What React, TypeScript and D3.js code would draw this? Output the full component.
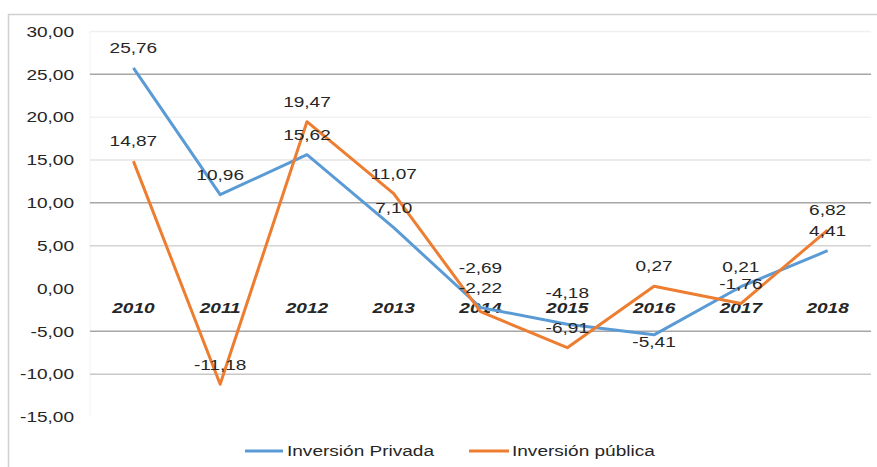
import React from "react";
import * as d3 from "d3";

const years = ["2010", "2011", "2012", "2013", "2014", "2015", "2016", "2017", "2018"];
const privada = [25.76, 10.96, 15.62, 7.1, -2.22, -4.18, -5.41, 0.21, 4.41];
const publica = [14.87, -11.18, 19.47, 11.07, -2.69, -6.91, 0.27, -1.76, 6.82];
const yTicks = [30, 25, 20, 15, 10, 5, 0, -5, -10, -15];
const seriesNames = ["Inversión Privada", "Inversión pública"];

// layout: label offsets above point (px), per series
const privadaLabelDy = [-20, -20, -20, -20, -20, -32, 7, -20, -20];
const publicaLabelDy = [-20, -20, -20, -20, -44, -20, -20, -20, -20];

const gridColor: Record<number, string> = {
  30: "#f0f0f0",
  25: "#a6a6a6",
  20: "#f2f2f2",
  15: "#e4e4e4",
  10: "#a6a6a6",
  5: "#d4d4d4",
  0: "none",
  "-5": "#a6a6a6",
  "-10": "#c8c8c8",
  "-15": "none",
};

const W = 877;
const H = 467;
const SX = 1.27;
const FONT = "'Liberation Sans', Arial, sans-serif";
const BLUE = "#5b9bd5";
const ORANGE = "#ed7d31";

const fmt = (v: number) => d3.format(".2f")(v).replace("\u2212", "-").replace(".", ",");

function T(props: {
  x: number;
  y: number;
  anchor?: string;
  weight?: string;
  italic?: boolean;
  children: React.ReactNode;
}) {
  return (
    <text
      transform={`translate(${props.x},${props.y}) scale(${SX},1)`}
      textAnchor={props.anchor || "middle"}
      dominantBaseline="central"
      fontFamily={FONT}
      fontSize={15}
      fontWeight={props.weight || "normal"}
      fontStyle={props.italic ? "italic" : "normal"}
      fill="#262626"
    >
      {props.children}
    </text>
  );
}

export default function App() {
  const left = 90;
  const right = 871;
  const top = 31.5;
  const bottom = 417;
  const x = d3.scaleBand<string>().domain(years).range([left, right]).padding(0);
  const y = d3.scaleLinear().domain([-15, 30]).range([bottom, top]);
  const cx = (yr: string) => (x(yr) as number) + x.bandwidth() / 2;

  const line = d3
    .line<number>()
    .x((_, i) => cx(years[i]))
    .y((d) => y(d));

  return (
    <svg
      width={W}
      height={H}
      style={{ position: "absolute", left: 0, top: 0, background: "#fff" }}
    >
      <rect x={0} y={0} width={W} height={H} fill="#fff" />
      {/* outer frame */}
      <rect x={8.5} y={14.5} width={W + 10} height={H + 10} fill="none" stroke="#d0d0d0" strokeWidth={1.5} />
      {/* plot area faint border */}
      <line x1={left} x2={left} y1={top} y2={bottom} stroke="#f2f2f2" />
      {/* gridlines */}
      {yTicks.map((t) =>
        gridColor[t] === "none" ? null : (
          <line
            key={t}
            x1={left}
            x2={right}
            y1={y(t)}
            y2={y(t)}
            stroke={gridColor[t]}
            strokeWidth={1.5}
          />
        )
      )}
      {/* y labels */}
      {yTicks.map((t) => (
        <T key={"yl" + t} x={74} y={y(t)} anchor="end">
          {fmt(t)}
        </T>
      ))}
      {/* category labels */}
      {years.map((yr) => (
        <T key={"c" + yr} x={cx(yr)} y={y(0) + 19} weight="bold" italic>
          {yr}
        </T>
      ))}
      {/* lines */}
      <path d={line(privada) || ""} fill="none" stroke={BLUE} strokeWidth={3} strokeLinejoin="round" />
      <path d={line(publica) || ""} fill="none" stroke={ORANGE} strokeWidth={3} strokeLinejoin="round" />
      {/* data labels */}
      {privada.map((v, i) => (
        <T key={"pl" + i} x={cx(years[i])} y={y(v) + privadaLabelDy[i]}>
          {fmt(v)}
        </T>
      ))}
      {publica.map((v, i) => (
        <T key={"ul" + i} x={cx(years[i])} y={y(v) + publicaLabelDy[i]}>
          {fmt(v)}
        </T>
      ))}
      {/* legend */}
      <line x1={245} x2={283} y1={451} y2={451} stroke={BLUE} strokeWidth={3} />
      <T x={287} y={451} anchor="start">
        {seriesNames[0]}
      </T>
      <line x1={469} x2={509} y1={451} y2={451} stroke={ORANGE} strokeWidth={3} />
      <T x={512} y={451} anchor="start">
        {seriesNames[1]}
      </T>
    </svg>
  );
}
